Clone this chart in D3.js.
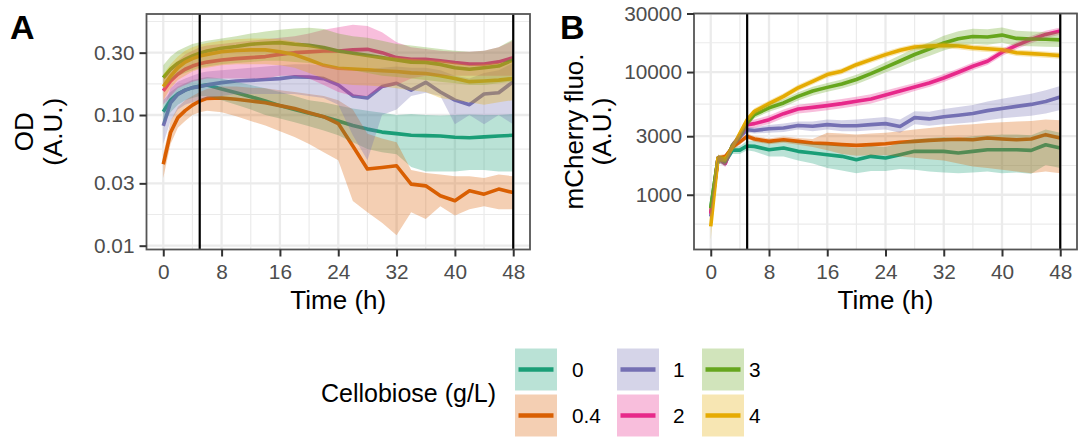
<!DOCTYPE html>
<html>
<head>
<meta charset="utf-8">
<script src="https://cdn.jsdelivr.net/npm/d3@7"></script>
<style>
  body { margin: 0; background: #fff; }
  svg { display: block; }
  text { font-family: "Liberation Sans", Arial, Helvetica, sans-serif; }
</style>
</head>
<body>
<svg id="chart" width="1078" height="441"></svg>
<script>
// ---- sampling times (h) shared by every series ----
const hours = [0,1,2,3,4,5,6,8,10,12,14,16,18,20,22,24,26,28,30,32,34,36,38,40,42,44,46,48];

// ---- conditions ----
const doses = ["0", "0.4", "1", "2", "3", "4"];
const doseColors = ["#1B9E77", "#D95F02", "#7570B3", "#E7298A", "#66A61E", "#E6AB02"];

// ---- axis ticks ----
const timeTicks = [0, 8, 16, 24, 32, 40, 48];
const odTicks = [0.01, 0.03, 0.1, 0.3];
const odTickLabels = ["0.01", "0.03", "0.10", "0.30"];
const fluoTicks = [1000, 3000, 10000, 30000];
const fluoTickLabels = ["1000", "3000", "10000", "30000"];
const markerHours = [5, 48];

// ---- OD (A.U.): mean and ribbon bounds per condition ----
const od0Mean = [0.106,0.13,0.145,0.155,0.162,0.167,0.17,0.158,0.148,0.138,0.128,0.118,0.11,0.103,0.097,0.09,0.083,0.078,0.074,0.072,0.07,0.0695,0.069,0.0675,0.067,0.068,0.069,0.07];
const od0Low  = [0.085,0.105,0.12,0.13,0.135,0.14,0.14,0.13,0.12,0.11,0.1,0.094,0.088,0.082,0.076,0.07,0.062,0.055,0.052,0.05,0.04,0.037,0.037,0.037,0.038,0.038,0.037,0.037];
const od0High = [0.13,0.15,0.165,0.175,0.185,0.19,0.195,0.19,0.18,0.17,0.16,0.15,0.14,0.13,0.125,0.118,0.112,0.108,0.104,0.1,0.102,0.1,0.099,0.1,0.101,0.1,0.1,0.102];

const od04Mean = [0.042,0.0735,0.0955,0.108,0.119,0.128,0.134,0.135,0.132,0.128,0.124,0.118,0.112,0.104,0.097,0.086,0.058,0.0386,0.0397,0.0409,0.0296,0.0287,0.0241,0.0221,0.0263,0.0248,0.0271,0.0255];
const od04Low  = [0.033,0.06,0.08,0.09,0.1,0.105,0.108,0.105,0.098,0.09,0.083,0.075,0.068,0.06,0.052,0.045,0.022,0.018,0.015,0.012,0.018,0.016,0.02,0.017,0.019,0.02,0.019,0.019];
const od04High = [0.05,0.09,0.115,0.13,0.14,0.15,0.158,0.165,0.165,0.162,0.16,0.155,0.15,0.145,0.14,0.13,0.11,0.072,0.066,0.062,0.038,0.036,0.035,0.034,0.034,0.033,0.035,0.034];

const od1Mean = [0.0826,0.124,0.144,0.155,0.162,0.165,0.17,0.177,0.182,0.184,0.187,0.19,0.196,0.195,0.19,0.17,0.14,0.135,0.165,0.175,0.155,0.178,0.15,0.13,0.12,0.145,0.148,0.18];
const od1Low  = [0.06,0.09,0.11,0.12,0.125,0.13,0.135,0.14,0.145,0.145,0.145,0.145,0.145,0.14,0.135,0.12,0.07,0.045,0.1,0.11,0.14,0.148,0.14,0.085,0.1,0.085,0.1,0.085];
const od1High = [0.11,0.16,0.18,0.19,0.2,0.21,0.215,0.22,0.225,0.23,0.235,0.24,0.245,0.245,0.24,0.23,0.22,0.22,0.23,0.235,0.23,0.23,0.22,0.2,0.19,0.21,0.22,0.25];

const od2Mean = [0.153,0.182,0.205,0.224,0.237,0.247,0.254,0.264,0.27,0.275,0.28,0.291,0.3,0.304,0.309,0.309,0.315,0.318,0.3,0.275,0.267,0.267,0.26,0.252,0.246,0.246,0.255,0.275];
const od2Low  = [0.12,0.14,0.16,0.17,0.18,0.185,0.19,0.19,0.19,0.19,0.19,0.2,0.2,0.19,0.17,0.15,0.14,0.14,0.16,0.17,0.19,0.2,0.2,0.2,0.2,0.2,0.2,0.2];
const od2High = [0.19,0.23,0.26,0.29,0.31,0.33,0.34,0.35,0.36,0.37,0.38,0.39,0.4,0.42,0.45,0.47,0.49,0.48,0.43,0.36,0.33,0.32,0.31,0.305,0.305,0.31,0.33,0.37];

const od3Mean = [0.193,0.224,0.249,0.267,0.283,0.297,0.309,0.324,0.334,0.348,0.354,0.358,0.348,0.341,0.328,0.309,0.297,0.286,0.275,0.264,0.254,0.252,0.244,0.23,0.224,0.23,0.237,0.264];
const od3Low  = [0.16,0.18,0.2,0.21,0.22,0.23,0.235,0.245,0.25,0.255,0.26,0.26,0.255,0.25,0.24,0.23,0.22,0.21,0.2,0.195,0.19,0.185,0.18,0.175,0.17,0.17,0.175,0.18];
const od3High = [0.24,0.28,0.31,0.33,0.35,0.36,0.37,0.385,0.4,0.42,0.435,0.45,0.46,0.465,0.455,0.42,0.4,0.39,0.37,0.35,0.34,0.33,0.32,0.31,0.305,0.31,0.33,0.38];

const od4Mean = [0.165,0.198,0.23,0.254,0.27,0.283,0.291,0.305,0.312,0.315,0.315,0.305,0.29,0.265,0.24,0.228,0.225,0.222,0.218,0.215,0.21,0.208,0.2,0.19,0.18,0.182,0.185,0.19];
const od4Low  = [0.13,0.16,0.185,0.2,0.215,0.225,0.23,0.24,0.245,0.245,0.245,0.24,0.23,0.21,0.19,0.175,0.17,0.168,0.165,0.16,0.155,0.15,0.135,0.13,0.125,0.12,0.125,0.13];
const od4High = [0.205,0.245,0.28,0.31,0.33,0.345,0.355,0.37,0.38,0.385,0.385,0.38,0.365,0.345,0.32,0.3,0.29,0.285,0.28,0.275,0.27,0.265,0.26,0.25,0.24,0.245,0.25,0.26];

// ---- mCherry fluorescence (A.U.): mean and ribbon bounds per condition ----
const fl0Mean = [778,1954,1870,2311,2311,2500,2479,2329,2403,2258,2188,2121,2056,1930,2056,1993,2121,2258,2258,2258,2188,2258,2329,2329,2329,2300,2557,2403];
const fl0Low  = [680,1800,1750,2150,2150,2300,2250,2050,2050,1900,1800,1650,1580,1500,1560,1560,1620,1600,1550,1520,1500,1520,1550,1500,1520,1480,1750,1650];
const fl0High = [880,2100,2000,2450,2500,2750,2750,2650,2750,2650,2600,2550,2500,2400,2500,2450,2650,2850,2900,2950,2900,3000,3050,3100,3100,3050,3400,3200];

const fl04Mean = [708,1991,2050,2450,2700,2992,2844,2724,2810,2724,2642,2608,2562,2525,2560,2608,2676,2724,2776,2810,2830,2810,2898,2850,2810,2850,3090,2898];
const fl04Low  = [640,1900,1950,2300,2550,2850,2700,2580,2650,2560,2450,2300,2150,2080,2100,2100,2050,2000,1950,1900,1800,1700,1650,1600,1550,1500,1550,1500];
const fl04High = [780,2100,2150,2600,2850,3150,3000,2880,2980,2900,2850,3200,3150,3100,3150,3200,3300,3400,3500,3600,3700,3750,3850,3900,3950,4000,4100,4050];

const fl1Mean = [666,1991,1800,2540,2965,3390,3344,3450,3498,3673,3613,3726,3650,3650,3726,3800,3600,4250,4150,4320,4450,4600,4850,5050,5250,5450,5750,6250];
const fl1Low  = [600,1900,1700,2400,2800,3200,3150,3200,3250,3400,3300,3400,3300,3300,3350,3400,3200,3750,3650,3750,3800,3900,4050,4200,4300,4400,4600,4900];
const fl1High = [740,2100,1900,2700,3150,3600,3550,3700,3800,3950,3950,4100,4050,4100,4200,4300,4100,4800,4750,5000,5200,5400,5750,6050,6350,6650,7100,7700];

const fl2Mean = [700,1991,1800,2540,2965,3726,3800,4093,4577,5000,5150,5326,5530,5780,6040,6500,7000,7560,8150,8950,9960,11150,12240,14500,16500,18440,20270,21570];
const fl2Low  = [640,1850,1680,2380,2780,3480,3520,3780,4220,4600,4720,4880,5080,5300,5540,5980,6450,7000,7550,8300,9250,10400,11400,13500,15400,17200,18900,20100];
const fl2High = [760,2130,1920,2700,3150,3980,4100,4420,4950,5420,5600,5800,6020,6300,6580,7060,7600,8150,8780,9650,10700,11950,13100,15500,17600,19700,21700,23100];

const fl3Mean = [778,1991,1870,2540,2965,3845,4494,5110,5600,6336,7000,7500,8000,8700,9700,10900,12300,13900,15400,17250,18680,19500,19300,20000,18800,18600,18500,18300];
const fl3Low  = [700,1850,1740,2380,2780,3600,4200,4750,5200,5850,6450,6900,7350,7950,8850,9900,11000,12300,13500,15000,16200,16900,16700,17300,16300,16200,16100,16000];
const fl3High = [860,2130,2000,2700,3150,4100,4800,5480,6020,6850,7580,8150,8700,9500,10600,12000,13700,15700,17500,19800,21500,22500,22300,23100,21700,21400,21200,21000];

const fl4Mean = [552,1991,1950,2450,3160,4093,4787,5530,6336,7440,8400,9530,10160,11480,12630,13870,15040,16000,16260,16500,16300,15780,15500,15200,14350,14140,13900,13610];
const fl4Low  = [430,1870,1840,2310,2980,3860,4510,5210,5970,7010,7920,8980,9580,10820,11900,13080,14180,15080,15330,15550,15360,14870,14600,14330,13520,13330,13100,12830];
const fl4High = [700,2110,2070,2600,3350,4340,5070,5860,6710,7880,8900,10100,10760,12160,13380,14690,15930,16950,17230,17480,17270,16720,16430,16100,15200,14980,14730,14420];

// ---- assemble per-condition records ----
const odSets = [
  [od0Mean, od0Low, od0High], [od04Mean, od04Low, od04High], [od1Mean, od1Low, od1High],
  [od2Mean, od2Low, od2High], [od3Mean, od3Low, od3High], [od4Mean, od4Low, od4High]
];
const flSets = [
  [fl0Mean, fl0Low, fl0High], [fl04Mean, fl04Low, fl04High], [fl1Mean, fl1Low, fl1High],
  [fl2Mean, fl2Low, fl2High], [fl3Mean, fl3Low, fl3High], [fl4Mean, fl4Low, fl4High]
];
function toRows(set) {
  return hours.map((t, i) => ({ t, mean: set[0][i], low: set[1][i], high: set[2][i] }));
}
const conditions = doses.map((d, i) => ({
  dose: d, color: doseColors[i], od: toRows(odSets[i]), fl: toRows(flSets[i])
}));

// ---- drawing ----
const svg = d3.select("#chart");
const FONT_TICK = 20.8, FONT_TITLE = 26;

function logMinorBreaks(ticks, domain) {
  const lb = ticks.map(Math.log10);
  const step = lb[1] - lb[0];
  const ext = [lb[0] - step, ...lb, lb[lb.length - 1] + step];
  const out = [];
  for (let i = 0; i < ext.length - 1; i++) {
    const v = Math.pow(10, (ext[i] + ext[i + 1]) / 2);
    if (v >= domain[0] && v <= domain[1]) out.push(v);
  }
  return out;
}
function linMinorBreaks(ticks, domain) {
  const step = ticks[1] - ticks[0];
  const ext = [ticks[0] - step, ...ticks, ticks[ticks.length - 1] + step];
  const out = [];
  for (let i = 0; i < ext.length - 1; i++) {
    const v = (ext[i] + ext[i + 1]) / 2;
    if (v >= domain[0] && v <= domain[1]) out.push(v);
  }
  return out;
}

function drawPanel(p) {
  const g = svg.append("g");
  const x = d3.scaleLinear().domain([-2.3, 50.3]).range([p.left, p.right]);
  const y = d3.scaleLog().domain(p.yDomain).range([p.bottom, p.top]);

  const clipId = "clip-" + p.key;
  svg.append("clipPath").attr("id", clipId).append("rect")
    .attr("x", p.left).attr("y", p.top)
    .attr("width", p.right - p.left).attr("height", p.bottom - p.top);

  // grid
  const grid = g.append("g");
  linMinorBreaks(timeTicks, x.domain()).forEach(v => grid.append("line")
    .attr("x1", x(v)).attr("x2", x(v)).attr("y1", p.top).attr("y2", p.bottom)
    .attr("stroke", "#ebebeb").attr("stroke-width", 1.2));
  logMinorBreaks(p.yTicks, p.yDomain).forEach(v => grid.append("line")
    .attr("x1", p.left).attr("x2", p.right).attr("y1", y(v)).attr("y2", y(v))
    .attr("stroke", "#ebebeb").attr("stroke-width", 1.2));
  timeTicks.forEach(v => grid.append("line")
    .attr("x1", x(v)).attr("x2", x(v)).attr("y1", p.top).attr("y2", p.bottom)
    .attr("stroke", "#ebebeb").attr("stroke-width", 2.3));
  p.yTicks.forEach(v => grid.append("line")
    .attr("x1", p.left).attr("x2", p.right).attr("y1", y(v)).attr("y2", y(v))
    .attr("stroke", "#ebebeb").attr("stroke-width", 2.3));

  const plot = g.append("g").attr("clip-path", `url(#${clipId})`);

  // lines layer, then ribbons layer on top
  const line = d3.line().x(d => x(d.t)).y(d => y(d.mean));
  plot.append("g").selectAll("path").data(conditions).join("path")
    .attr("d", c => line(c[p.key]))
    .attr("fill", "none").attr("stroke", c => c.color)
    .attr("stroke-width", 3.6).attr("stroke-linejoin", "round");

  const area = d3.area().x(d => x(d.t)).y0(d => y(d.low)).y1(d => y(d.high));
  plot.append("g").selectAll("path").data(conditions).join("path")
    .attr("d", c => area(c[p.key]))
    .attr("fill", c => c.color).attr("fill-opacity", 0.3).attr("stroke", "none");

  // reference times
  plot.append("g").selectAll("line").data(markerHours).join("line")
    .attr("x1", d => x(d)).attr("x2", d => x(d))
    .attr("y1", p.top).attr("y2", p.bottom)
    .attr("stroke", "#000").attr("stroke-width", 2.2);

  // panel border
  g.append("rect").attr("x", p.left).attr("y", p.top)
    .attr("width", p.right - p.left).attr("height", p.bottom - p.top)
    .attr("fill", "none").attr("stroke", "#555").attr("stroke-width", 1.8);

  // axes
  const ax = g.append("g").attr("transform", `translate(0,${p.bottom})`)
    .call(d3.axisBottom(x).tickValues(timeTicks).tickSize(7).tickPadding(8));
  const ay = g.append("g").attr("transform", `translate(${p.left},0)`)
    .call(d3.axisLeft(y).tickValues(p.yTicks).tickFormat((d, i) => p.yTickLabels[i]).tickSize(7).tickPadding(5));
  [ax, ay].forEach(a => {
    a.select(".domain").remove();
    a.selectAll(".tick line").attr("stroke", "#333").attr("stroke-width", 2);
    a.selectAll(".tick text").attr("fill", "#4d4d4d")
      .style("font-size", FONT_TICK + "px").style("font-family", '"Liberation Sans", Arial, sans-serif');
  });

  // axis titles
  g.append("text").attr("x", (p.left + p.right) / 2).attr("y", 309)
    .attr("text-anchor", "middle").style("font-size", FONT_TITLE + "px").attr("fill", "#000")
    .text("Time (h)");
  const yc = (p.top + p.bottom) / 2;
  p.yTitle.forEach((s, i) => g.append("text")
    .attr("transform", `translate(${p.yTitleX[i]},${yc}) rotate(-90)`)
    .attr("text-anchor", "middle").attr("dy", "0.35em")
    .style("font-size", FONT_TITLE + "px").attr("fill", "#000").text(s));

  // panel tag
  g.append("text").attr("x", p.tagX).attr("y", 39)
    .style("font-size", "34px").style("font-weight", "bold").attr("fill", "#000")
    .text(p.tag);
}

drawPanel({
  key: "od", tag: "A", tagX: 10,
  left: 146.5, right: 530, top: 14, bottom: 249.5,
  yDomain: [0.00935, 0.593], yTicks: odTicks, yTickLabels: odTickLabels,
  yTitle: ["OD", "(A.U.)"], yTitleX: [24, 53]
});
drawPanel({
  key: "fl", tag: "B", tagX: 560,
  left: 694, right: 1077, top: 13.5, bottom: 249.5,
  yDomain: [358, 30000], yTicks: fluoTicks, yTickLabels: fluoTickLabels,
  yTitle: ["mCherry fluo.", "(A.U.)"], yTitleX: [574, 602]
});

// ---- legend ----
const legend = svg.append("g");
legend.append("text").attr("x", 321).attr("y", 393).attr("dy", "0.35em")
  .style("font-size", "25px").attr("fill", "#000").text("Cellobiose (g/L)");

const keyCols = [515, 617, 702];
const labelCols = [572, 673, 749];
const keyRows = [348.5, 394.5];
const keySize = 42;
conditions.forEach((c, i) => {
  const col = Math.floor(i / 2), row = i % 2;
  const kx = keyCols[col], ky = keyRows[row];
  legend.append("rect").attr("x", kx).attr("y", ky).attr("width", keySize).attr("height", keySize)
    .attr("fill", c.color).attr("fill-opacity", 0.3);
  legend.append("line").attr("x1", kx + 3.5).attr("x2", kx + keySize - 3.5)
    .attr("y1", ky + keySize / 2).attr("y2", ky + keySize / 2)
    .attr("stroke", c.color).attr("stroke-width", 4.5);
  legend.append("text").attr("x", labelCols[col]).attr("y", ky + keySize / 2).attr("dy", "0.35em")
    .style("font-size", FONT_TICK + "px").attr("fill", "#000").text(c.dose);
});
</script>
</body>
</html>
